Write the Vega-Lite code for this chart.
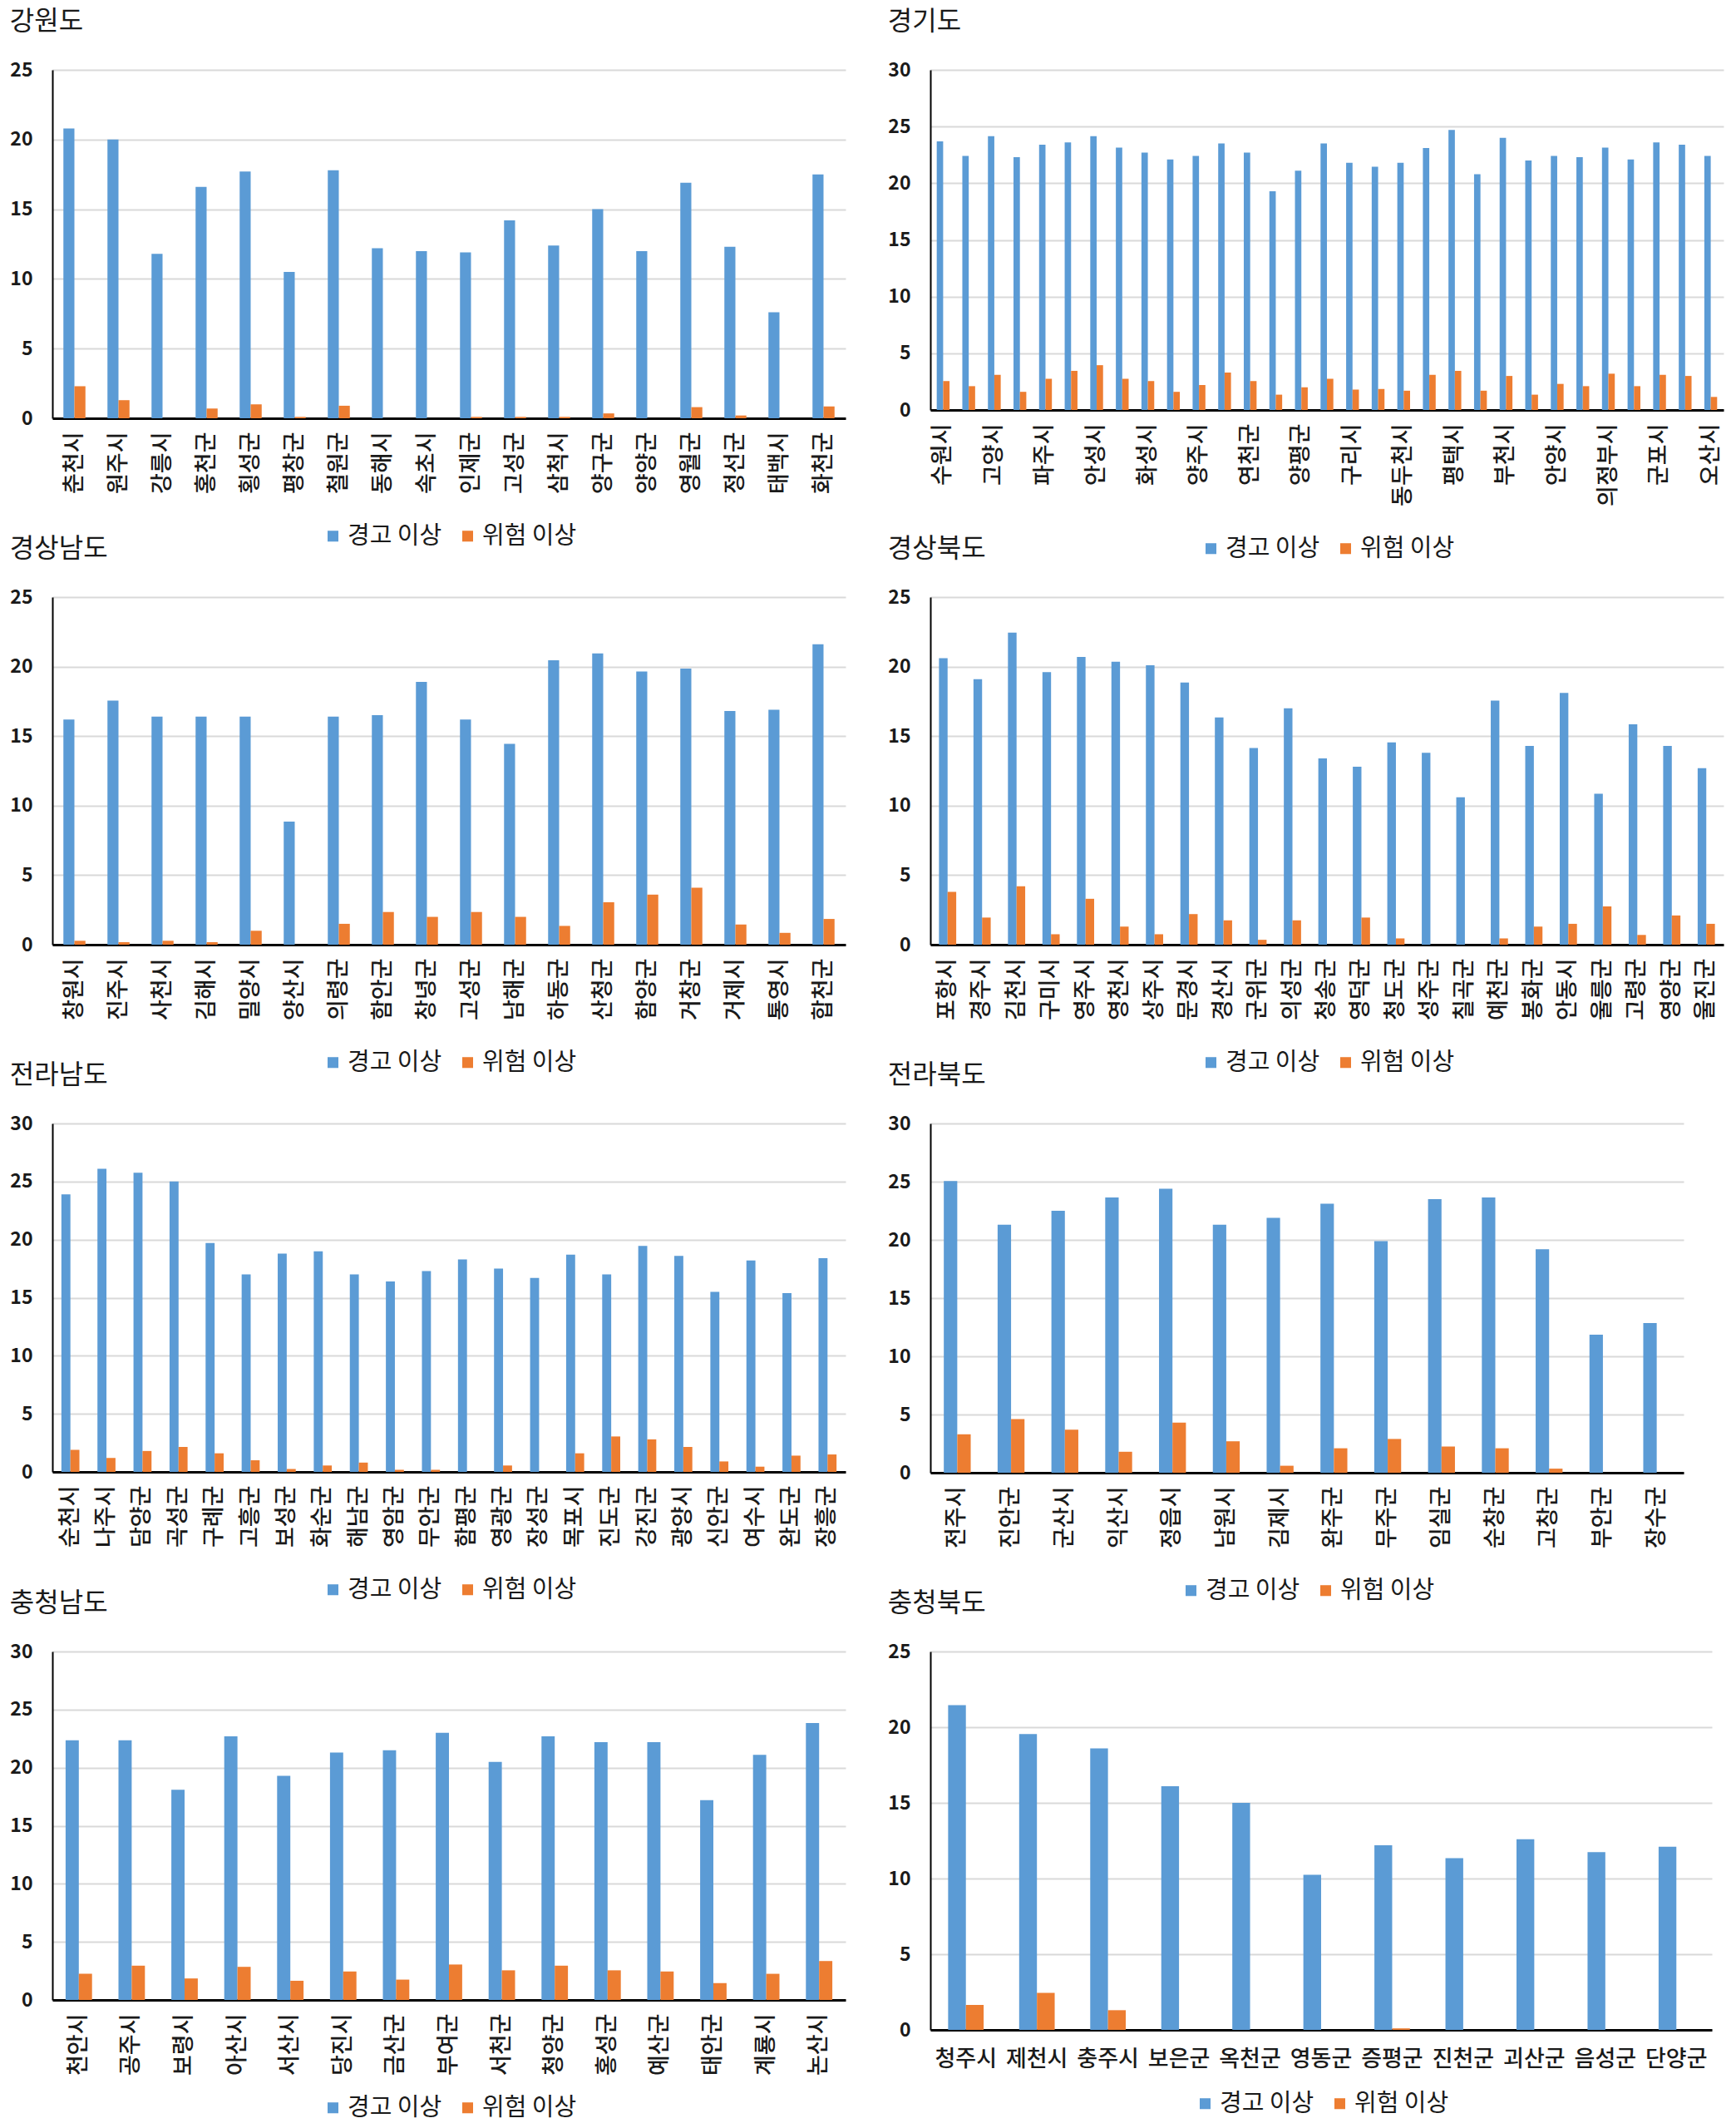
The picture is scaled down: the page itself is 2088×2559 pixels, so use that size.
{
  "$schema": "https://vega.github.io/schema/vega-lite/v6.json",
  "background": "white",
  "padding": {"left": 11, "top": 10, "right": 10, "bottom": 5},
  "data": {"values": [
    {"p":"강원도","r":"춘천시","s":"경고 이상","v":20.8},{"p":"강원도","r":"춘천시","s":"위험 이상","v":2.3},
    {"p":"강원도","r":"원주시","s":"경고 이상","v":20.0},{"p":"강원도","r":"원주시","s":"위험 이상","v":1.3},
    {"p":"강원도","r":"강릉시","s":"경고 이상","v":11.8},{"p":"강원도","r":"강릉시","s":"위험 이상","v":0},
    {"p":"강원도","r":"홍천군","s":"경고 이상","v":16.6},{"p":"강원도","r":"홍천군","s":"위험 이상","v":0.7},
    {"p":"강원도","r":"횡성군","s":"경고 이상","v":17.7},{"p":"강원도","r":"횡성군","s":"위험 이상","v":1.0},
    {"p":"강원도","r":"평창군","s":"경고 이상","v":10.5},{"p":"강원도","r":"평창군","s":"위험 이상","v":0.1},
    {"p":"강원도","r":"철원군","s":"경고 이상","v":17.8},{"p":"강원도","r":"철원군","s":"위험 이상","v":0.9},
    {"p":"강원도","r":"동해시","s":"경고 이상","v":12.2},{"p":"강원도","r":"동해시","s":"위험 이상","v":0},
    {"p":"강원도","r":"속초시","s":"경고 이상","v":12.0},{"p":"강원도","r":"속초시","s":"위험 이상","v":0},
    {"p":"강원도","r":"인제군","s":"경고 이상","v":11.9},{"p":"강원도","r":"인제군","s":"위험 이상","v":0.1},
    {"p":"강원도","r":"고성군","s":"경고 이상","v":14.2},{"p":"강원도","r":"고성군","s":"위험 이상","v":0.1},
    {"p":"강원도","r":"삼척시","s":"경고 이상","v":12.4},{"p":"강원도","r":"삼척시","s":"위험 이상","v":0.1},
    {"p":"강원도","r":"양구군","s":"경고 이상","v":15.0},{"p":"강원도","r":"양구군","s":"위험 이상","v":0.35},
    {"p":"강원도","r":"양양군","s":"경고 이상","v":12.0},{"p":"강원도","r":"양양군","s":"위험 이상","v":0},
    {"p":"강원도","r":"영월군","s":"경고 이상","v":16.9},{"p":"강원도","r":"영월군","s":"위험 이상","v":0.8},
    {"p":"강원도","r":"정선군","s":"경고 이상","v":12.3},{"p":"강원도","r":"정선군","s":"위험 이상","v":0.2},
    {"p":"강원도","r":"태백시","s":"경고 이상","v":7.6},{"p":"강원도","r":"태백시","s":"위험 이상","v":0},
    {"p":"강원도","r":"화천군","s":"경고 이상","v":17.5},{"p":"강원도","r":"화천군","s":"위험 이상","v":0.85},

    {"p":"경기도","r":"수원시","s":"경고 이상","v":23.7},{"p":"경기도","r":"수원시","s":"위험 이상","v":2.55},
    {"p":"경기도","r":"성남시","s":"경고 이상","v":22.4},{"p":"경기도","r":"성남시","s":"위험 이상","v":2.1},
    {"p":"경기도","r":"고양시","s":"경고 이상","v":24.15},{"p":"경기도","r":"고양시","s":"위험 이상","v":3.1},
    {"p":"경기도","r":"용인시","s":"경고 이상","v":22.3},{"p":"경기도","r":"용인시","s":"위험 이상","v":1.6},
    {"p":"경기도","r":"파주시","s":"경고 이상","v":23.4},{"p":"경기도","r":"파주시","s":"위험 이상","v":2.75},
    {"p":"경기도","r":"김포시","s":"경고 이상","v":23.6},{"p":"경기도","r":"김포시","s":"위험 이상","v":3.45},
    {"p":"경기도","r":"안성시","s":"경고 이상","v":24.15},{"p":"경기도","r":"안성시","s":"위험 이상","v":3.95},
    {"p":"경기도","r":"이천시","s":"경고 이상","v":23.15},{"p":"경기도","r":"이천시","s":"위험 이상","v":2.75},
    {"p":"경기도","r":"화성시","s":"경고 이상","v":22.7},{"p":"경기도","r":"화성시","s":"위험 이상","v":2.55},
    {"p":"경기도","r":"여주시","s":"경고 이상","v":22.1},{"p":"경기도","r":"여주시","s":"위험 이상","v":1.6},
    {"p":"경기도","r":"양주시","s":"경고 이상","v":22.4},{"p":"경기도","r":"양주시","s":"위험 이상","v":2.2},
    {"p":"경기도","r":"포천시","s":"경고 이상","v":23.5},{"p":"경기도","r":"포천시","s":"위험 이상","v":3.3},
    {"p":"경기도","r":"연천군","s":"경고 이상","v":22.7},{"p":"경기도","r":"연천군","s":"위험 이상","v":2.55},
    {"p":"경기도","r":"가평군","s":"경고 이상","v":19.3},{"p":"경기도","r":"가평군","s":"위험 이상","v":1.35},
    {"p":"경기도","r":"양평군","s":"경고 이상","v":21.1},{"p":"경기도","r":"양평군","s":"위험 이상","v":2.0},
    {"p":"경기도","r":"남양주시","s":"경고 이상","v":23.5},{"p":"경기도","r":"남양주시","s":"위험 이상","v":2.75},
    {"p":"경기도","r":"구리시","s":"경고 이상","v":21.8},{"p":"경기도","r":"구리시","s":"위험 이상","v":1.8},
    {"p":"경기도","r":"하남시","s":"경고 이상","v":21.45},{"p":"경기도","r":"하남시","s":"위험 이상","v":1.85},
    {"p":"경기도","r":"동두천시","s":"경고 이상","v":21.8},{"p":"경기도","r":"동두천시","s":"위험 이상","v":1.7},
    {"p":"경기도","r":"광주시","s":"경고 이상","v":23.1},{"p":"경기도","r":"광주시","s":"위험 이상","v":3.1},
    {"p":"경기도","r":"평택시","s":"경고 이상","v":24.7},{"p":"경기도","r":"평택시","s":"위험 이상","v":3.45},
    {"p":"경기도","r":"시흥시","s":"경고 이상","v":20.8},{"p":"경기도","r":"시흥시","s":"위험 이상","v":1.7},
    {"p":"경기도","r":"부천시","s":"경고 이상","v":24.0},{"p":"경기도","r":"부천시","s":"위험 이상","v":3.0},
    {"p":"경기도","r":"안산시","s":"경고 이상","v":22.0},{"p":"경기도","r":"안산시","s":"위험 이상","v":1.35},
    {"p":"경기도","r":"안양시","s":"경고 이상","v":22.4},{"p":"경기도","r":"안양시","s":"위험 이상","v":2.3},
    {"p":"경기도","r":"광명시","s":"경고 이상","v":22.3},{"p":"경기도","r":"광명시","s":"위험 이상","v":2.1},
    {"p":"경기도","r":"의정부시","s":"경고 이상","v":23.15},{"p":"경기도","r":"의정부시","s":"위험 이상","v":3.2},
    {"p":"경기도","r":"과천시","s":"경고 이상","v":22.1},{"p":"경기도","r":"과천시","s":"위험 이상","v":2.1},
    {"p":"경기도","r":"군포시","s":"경고 이상","v":23.6},{"p":"경기도","r":"군포시","s":"위험 이상","v":3.1},
    {"p":"경기도","r":"의왕시","s":"경고 이상","v":23.4},{"p":"경기도","r":"의왕시","s":"위험 이상","v":3.0},
    {"p":"경기도","r":"오산시","s":"경고 이상","v":22.4},{"p":"경기도","r":"오산시","s":"위험 이상","v":1.15},

    {"p":"경상남도","r":"창원시","s":"경고 이상","v":16.2},{"p":"경상남도","r":"창원시","s":"위험 이상","v":0.28},
    {"p":"경상남도","r":"진주시","s":"경고 이상","v":17.55},{"p":"경상남도","r":"진주시","s":"위험 이상","v":0.18},
    {"p":"경상남도","r":"사천시","s":"경고 이상","v":16.4},{"p":"경상남도","r":"사천시","s":"위험 이상","v":0.28},
    {"p":"경상남도","r":"김해시","s":"경고 이상","v":16.4},{"p":"경상남도","r":"김해시","s":"위험 이상","v":0.18},
    {"p":"경상남도","r":"밀양시","s":"경고 이상","v":16.4},{"p":"경상남도","r":"밀양시","s":"위험 이상","v":1.0},
    {"p":"경상남도","r":"양산시","s":"경고 이상","v":8.85},{"p":"경상남도","r":"양산시","s":"위험 이상","v":0},
    {"p":"경상남도","r":"의령군","s":"경고 이상","v":16.4},{"p":"경상남도","r":"의령군","s":"위험 이상","v":1.5},
    {"p":"경상남도","r":"함안군","s":"경고 이상","v":16.5},{"p":"경상남도","r":"함안군","s":"위험 이상","v":2.35},
    {"p":"경상남도","r":"창녕군","s":"경고 이상","v":18.9},{"p":"경상남도","r":"창녕군","s":"위험 이상","v":2.0},
    {"p":"경상남도","r":"고성군","s":"경고 이상","v":16.2},{"p":"경상남도","r":"고성군","s":"위험 이상","v":2.35},
    {"p":"경상남도","r":"남해군","s":"경고 이상","v":14.45},{"p":"경상남도","r":"남해군","s":"위험 이상","v":2.0},
    {"p":"경상남도","r":"하동군","s":"경고 이상","v":20.45},{"p":"경상남도","r":"하동군","s":"위험 이상","v":1.35},
    {"p":"경상남도","r":"산청군","s":"경고 이상","v":20.95},{"p":"경상남도","r":"산청군","s":"위험 이상","v":3.05},
    {"p":"경상남도","r":"함양군","s":"경고 이상","v":19.65},{"p":"경상남도","r":"함양군","s":"위험 이상","v":3.6},
    {"p":"경상남도","r":"거창군","s":"경고 이상","v":19.85},{"p":"경상남도","r":"거창군","s":"위험 이상","v":4.1},
    {"p":"경상남도","r":"거제시","s":"경고 이상","v":16.8},{"p":"경상남도","r":"거제시","s":"위험 이상","v":1.45},
    {"p":"경상남도","r":"통영시","s":"경고 이상","v":16.9},{"p":"경상남도","r":"통영시","s":"위험 이상","v":0.85},
    {"p":"경상남도","r":"합천군","s":"경고 이상","v":21.6},{"p":"경상남도","r":"합천군","s":"위험 이상","v":1.85},

    {"p":"경상북도","r":"포항시","s":"경고 이상","v":20.6},{"p":"경상북도","r":"포항시","s":"위험 이상","v":3.8},
    {"p":"경상북도","r":"경주시","s":"경고 이상","v":19.1},{"p":"경상북도","r":"경주시","s":"위험 이상","v":1.95},
    {"p":"경상북도","r":"김천시","s":"경고 이상","v":22.45},{"p":"경상북도","r":"김천시","s":"위험 이상","v":4.2},
    {"p":"경상북도","r":"구미시","s":"경고 이상","v":19.6},{"p":"경상북도","r":"구미시","s":"위험 이상","v":0.75},
    {"p":"경상북도","r":"영주시","s":"경고 이상","v":20.7},{"p":"경상북도","r":"영주시","s":"위험 이상","v":3.3},
    {"p":"경상북도","r":"영천시","s":"경고 이상","v":20.35},{"p":"경상북도","r":"영천시","s":"위험 이상","v":1.3},
    {"p":"경상북도","r":"상주시","s":"경고 이상","v":20.1},{"p":"경상북도","r":"상주시","s":"위험 이상","v":0.75},
    {"p":"경상북도","r":"문경시","s":"경고 이상","v":18.85},{"p":"경상북도","r":"문경시","s":"위험 이상","v":2.2},
    {"p":"경상북도","r":"경산시","s":"경고 이상","v":16.35},{"p":"경상북도","r":"경산시","s":"위험 이상","v":1.75},
    {"p":"경상북도","r":"군위군","s":"경고 이상","v":14.15},{"p":"경상북도","r":"군위군","s":"위험 이상","v":0.35},
    {"p":"경상북도","r":"의성군","s":"경고 이상","v":17.0},{"p":"경상북도","r":"의성군","s":"위험 이상","v":1.75},
    {"p":"경상북도","r":"청송군","s":"경고 이상","v":13.4},{"p":"경상북도","r":"청송군","s":"위험 이상","v":0},
    {"p":"경상북도","r":"영덕군","s":"경고 이상","v":12.8},{"p":"경상북도","r":"영덕군","s":"위험 이상","v":1.95},
    {"p":"경상북도","r":"청도군","s":"경고 이상","v":14.55},{"p":"경상북도","r":"청도군","s":"위험 이상","v":0.45},
    {"p":"경상북도","r":"성주군","s":"경고 이상","v":13.8},{"p":"경상북도","r":"성주군","s":"위험 이상","v":0},
    {"p":"경상북도","r":"칠곡군","s":"경고 이상","v":10.6},{"p":"경상북도","r":"칠곡군","s":"위험 이상","v":0},
    {"p":"경상북도","r":"예천군","s":"경고 이상","v":17.55},{"p":"경상북도","r":"예천군","s":"위험 이상","v":0.45},
    {"p":"경상북도","r":"봉화군","s":"경고 이상","v":14.3},{"p":"경상북도","r":"봉화군","s":"위험 이상","v":1.3},
    {"p":"경상북도","r":"안동시","s":"경고 이상","v":18.1},{"p":"경상북도","r":"안동시","s":"위험 이상","v":1.5},
    {"p":"경상북도","r":"울릉군","s":"경고 이상","v":10.85},{"p":"경상북도","r":"울릉군","s":"위험 이상","v":2.75},
    {"p":"경상북도","r":"고령군","s":"경고 이상","v":15.85},{"p":"경상북도","r":"고령군","s":"위험 이상","v":0.7},
    {"p":"경상북도","r":"영양군","s":"경고 이상","v":14.3},{"p":"경상북도","r":"영양군","s":"위험 이상","v":2.1},
    {"p":"경상북도","r":"울진군","s":"경고 이상","v":12.7},{"p":"경상북도","r":"울진군","s":"위험 이상","v":1.5},

    {"p":"전라남도","r":"순천시","s":"경고 이상","v":23.9},{"p":"전라남도","r":"순천시","s":"위험 이상","v":1.9},
    {"p":"전라남도","r":"나주시","s":"경고 이상","v":26.1},{"p":"전라남도","r":"나주시","s":"위험 이상","v":1.2},
    {"p":"전라남도","r":"담양군","s":"경고 이상","v":25.75},{"p":"전라남도","r":"담양군","s":"위험 이상","v":1.8},
    {"p":"전라남도","r":"곡성군","s":"경고 이상","v":25.0},{"p":"전라남도","r":"곡성군","s":"위험 이상","v":2.15},
    {"p":"전라남도","r":"구례군","s":"경고 이상","v":19.7},{"p":"전라남도","r":"구례군","s":"위험 이상","v":1.6},
    {"p":"전라남도","r":"고흥군","s":"경고 이상","v":17.0},{"p":"전라남도","r":"고흥군","s":"위험 이상","v":1.0},
    {"p":"전라남도","r":"보성군","s":"경고 이상","v":18.8},{"p":"전라남도","r":"보성군","s":"위험 이상","v":0.25},
    {"p":"전라남도","r":"화순군","s":"경고 이상","v":19.0},{"p":"전라남도","r":"화순군","s":"위험 이상","v":0.55},
    {"p":"전라남도","r":"해남군","s":"경고 이상","v":17.0},{"p":"전라남도","r":"해남군","s":"위험 이상","v":0.8},
    {"p":"전라남도","r":"영암군","s":"경고 이상","v":16.4},{"p":"전라남도","r":"영암군","s":"위험 이상","v":0.18},
    {"p":"전라남도","r":"무안군","s":"경고 이상","v":17.3},{"p":"전라남도","r":"무안군","s":"위험 이상","v":0.18},
    {"p":"전라남도","r":"함평군","s":"경고 이상","v":18.3},{"p":"전라남도","r":"함평군","s":"위험 이상","v":0},
    {"p":"전라남도","r":"영광군","s":"경고 이상","v":17.5},{"p":"전라남도","r":"영광군","s":"위험 이상","v":0.55},
    {"p":"전라남도","r":"장성군","s":"경고 이상","v":16.7},{"p":"전라남도","r":"장성군","s":"위험 이상","v":0},
    {"p":"전라남도","r":"목포시","s":"경고 이상","v":18.7},{"p":"전라남도","r":"목포시","s":"위험 이상","v":1.6},
    {"p":"전라남도","r":"진도군","s":"경고 이상","v":17.0},{"p":"전라남도","r":"진도군","s":"위험 이상","v":3.05},
    {"p":"전라남도","r":"강진군","s":"경고 이상","v":19.45},{"p":"전라남도","r":"강진군","s":"위험 이상","v":2.8},
    {"p":"전라남도","r":"광양시","s":"경고 이상","v":18.6},{"p":"전라남도","r":"광양시","s":"위험 이상","v":2.15},
    {"p":"전라남도","r":"신안군","s":"경고 이상","v":15.5},{"p":"전라남도","r":"신안군","s":"위험 이상","v":0.9},
    {"p":"전라남도","r":"여수시","s":"경고 이상","v":18.2},{"p":"전라남도","r":"여수시","s":"위험 이상","v":0.45},
    {"p":"전라남도","r":"완도군","s":"경고 이상","v":15.4},{"p":"전라남도","r":"완도군","s":"위험 이상","v":1.4},
    {"p":"전라남도","r":"장흥군","s":"경고 이상","v":18.4},{"p":"전라남도","r":"장흥군","s":"위험 이상","v":1.5},

    {"p":"전라북도","r":"전주시","s":"경고 이상","v":25.05},{"p":"전라북도","r":"전주시","s":"위험 이상","v":3.3},
    {"p":"전라북도","r":"진안군","s":"경고 이상","v":21.3},{"p":"전라북도","r":"진안군","s":"위험 이상","v":4.6},
    {"p":"전라북도","r":"군산시","s":"경고 이상","v":22.5},{"p":"전라북도","r":"군산시","s":"위험 이상","v":3.7},
    {"p":"전라북도","r":"익산시","s":"경고 이상","v":23.65},{"p":"전라북도","r":"익산시","s":"위험 이상","v":1.8},
    {"p":"전라북도","r":"정읍시","s":"경고 이상","v":24.4},{"p":"전라북도","r":"정읍시","s":"위험 이상","v":4.3},
    {"p":"전라북도","r":"남원시","s":"경고 이상","v":21.3},{"p":"전라북도","r":"남원시","s":"위험 이상","v":2.7},
    {"p":"전라북도","r":"김제시","s":"경고 이상","v":21.9},{"p":"전라북도","r":"김제시","s":"위험 이상","v":0.6},
    {"p":"전라북도","r":"완주군","s":"경고 이상","v":23.1},{"p":"전라북도","r":"완주군","s":"위험 이상","v":2.1},
    {"p":"전라북도","r":"무주군","s":"경고 이상","v":19.9},{"p":"전라북도","r":"무주군","s":"위험 이상","v":2.9},
    {"p":"전라북도","r":"임실군","s":"경고 이상","v":23.5},{"p":"전라북도","r":"임실군","s":"위험 이상","v":2.25},
    {"p":"전라북도","r":"순창군","s":"경고 이상","v":23.65},{"p":"전라북도","r":"순창군","s":"위험 이상","v":2.1},
    {"p":"전라북도","r":"고창군","s":"경고 이상","v":19.2},{"p":"전라북도","r":"고창군","s":"위험 이상","v":0.35},
    {"p":"전라북도","r":"부안군","s":"경고 이상","v":11.85},{"p":"전라북도","r":"부안군","s":"위험 이상","v":0},
    {"p":"전라북도","r":"장수군","s":"경고 이상","v":12.85},{"p":"전라북도","r":"장수군","s":"위험 이상","v":0},

    {"p":"충청남도","r":"천안시","s":"경고 이상","v":22.35},{"p":"충청남도","r":"천안시","s":"위험 이상","v":2.25},
    {"p":"충청남도","r":"공주시","s":"경고 이상","v":22.35},{"p":"충청남도","r":"공주시","s":"위험 이상","v":2.95},
    {"p":"충청남도","r":"보령시","s":"경고 이상","v":18.1},{"p":"충청남도","r":"보령시","s":"위험 이상","v":1.85},
    {"p":"충청남도","r":"아산시","s":"경고 이상","v":22.7},{"p":"충청남도","r":"아산시","s":"위험 이상","v":2.85},
    {"p":"충청남도","r":"서산시","s":"경고 이상","v":19.3},{"p":"충청남도","r":"서산시","s":"위험 이상","v":1.65},
    {"p":"충청남도","r":"당진시","s":"경고 이상","v":21.3},{"p":"충청남도","r":"당진시","s":"위험 이상","v":2.45},
    {"p":"충청남도","r":"금산군","s":"경고 이상","v":21.5},{"p":"충청남도","r":"금산군","s":"위험 이상","v":1.75},
    {"p":"충청남도","r":"부여군","s":"경고 이상","v":23.0},{"p":"충청남도","r":"부여군","s":"위험 이상","v":3.05},
    {"p":"충청남도","r":"서천군","s":"경고 이상","v":20.5},{"p":"충청남도","r":"서천군","s":"위험 이상","v":2.55},
    {"p":"충청남도","r":"청양군","s":"경고 이상","v":22.7},{"p":"충청남도","r":"청양군","s":"위험 이상","v":2.95},
    {"p":"충청남도","r":"홍성군","s":"경고 이상","v":22.2},{"p":"충청남도","r":"홍성군","s":"위험 이상","v":2.55},
    {"p":"충청남도","r":"예산군","s":"경고 이상","v":22.2},{"p":"충청남도","r":"예산군","s":"위험 이상","v":2.45},
    {"p":"충청남도","r":"태안군","s":"경고 이상","v":17.2},{"p":"충청남도","r":"태안군","s":"위험 이상","v":1.45},
    {"p":"충청남도","r":"계룡시","s":"경고 이상","v":21.1},{"p":"충청남도","r":"계룡시","s":"위험 이상","v":2.25},
    {"p":"충청남도","r":"논산시","s":"경고 이상","v":23.85},{"p":"충청남도","r":"논산시","s":"위험 이상","v":3.35},

    {"p":"충청북도","r":"청주시","s":"경고 이상","v":21.45},{"p":"충청북도","r":"청주시","s":"위험 이상","v":1.65},
    {"p":"충청북도","r":"제천시","s":"경고 이상","v":19.55},{"p":"충청북도","r":"제천시","s":"위험 이상","v":2.45},
    {"p":"충청북도","r":"충주시","s":"경고 이상","v":18.6},{"p":"충청북도","r":"충주시","s":"위험 이상","v":1.3},
    {"p":"충청북도","r":"보은군","s":"경고 이상","v":16.1},{"p":"충청북도","r":"보은군","s":"위험 이상","v":0},
    {"p":"충청북도","r":"옥천군","s":"경고 이상","v":15.0},{"p":"충청북도","r":"옥천군","s":"위험 이상","v":0},
    {"p":"충청북도","r":"영동군","s":"경고 이상","v":10.25},{"p":"충청북도","r":"영동군","s":"위험 이상","v":0},
    {"p":"충청북도","r":"증평군","s":"경고 이상","v":12.2},{"p":"충청북도","r":"증평군","s":"위험 이상","v":0.1},
    {"p":"충청북도","r":"진천군","s":"경고 이상","v":11.35},{"p":"충청북도","r":"진천군","s":"위험 이상","v":0},
    {"p":"충청북도","r":"괴산군","s":"경고 이상","v":12.6},{"p":"충청북도","r":"괴산군","s":"위험 이상","v":0},
    {"p":"충청북도","r":"음성군","s":"경고 이상","v":11.75},{"p":"충청북도","r":"음성군","s":"위험 이상","v":0},
    {"p":"충청북도","r":"단양군","s":"경고 이상","v":12.1},{"p":"충청북도","r":"단양군","s":"위험 이상","v":0}
  ]},
  "columns": 2,
  "bounds": "flush",
  "align": "each",
  "spacing": {"row": 215, "column": 102},
  "resolve": {
    "scale": {"x": "independent", "y": "independent", "color": "independent", "xOffset": "independent"},
    "axis": {"x": "independent", "y": "independent"},
    "legend": {"color": "independent"}
  },
  "concat": [
    {
      "title": {"text": "강원도"},
      "width": 954, "height": 419,
      "transform": [{"filter": "datum.p == '강원도'"}],
      "mark": {"type": "bar"},
      "encoding": {
        "x": {"field": "r", "type": "nominal", "sort": null, "scale": {"paddingInner": 0.5, "paddingOuter": 0.25}},
        "xOffset": {"field": "s", "type": "nominal", "sort": ["경고 이상", "위험 이상"]},
        "y": {"field": "v", "type": "quantitative", "scale": {"domain": [0, 25], "nice": false}, "axis": {"values": [0, 5, 10, 15, 20, 25]}},
        "color": {"field": "s", "type": "nominal", "scale": {"domain": ["경고 이상", "위험 이상"], "range": ["#5B9BD5", "#ED7D31"]}, "legend": {"title": null}}
      }
    },
    {
      "title": {"text": "경기도"},
      "width": 954, "height": 409,
      "transform": [{"filter": "datum.p == '경기도'"}],
      "mark": {"type": "bar"},
      "encoding": {
        "x": {"field": "r", "type": "nominal", "sort": null, "scale": {"paddingInner": 0.5, "paddingOuter": 0.25},
              "axis": {"values": ["수원시", "고양시", "파주시", "안성시", "화성시", "양주시", "연천군", "양평군", "구리시", "동두천시", "평택시", "부천시", "안양시", "의정부시", "군포시", "오산시"]}},
        "xOffset": {"field": "s", "type": "nominal", "sort": ["경고 이상", "위험 이상"]},
        "y": {"field": "v", "type": "quantitative", "scale": {"domain": [0, 30], "nice": false}, "axis": {"values": [0, 5, 10, 15, 20, 25, 30]}},
        "color": {"field": "s", "type": "nominal", "scale": {"domain": ["경고 이상", "위험 이상"], "range": ["#5B9BD5", "#ED7D31"]}, "legend": {"title": null}}
      }
    },
    {
      "title": {"text": "경상남도"},
      "width": 954, "height": 418,
      "transform": [{"filter": "datum.p == '경상남도'"}],
      "mark": {"type": "bar"},
      "encoding": {
        "x": {"field": "r", "type": "nominal", "sort": null, "scale": {"paddingInner": 0.5, "paddingOuter": 0.25}},
        "xOffset": {"field": "s", "type": "nominal", "sort": ["경고 이상", "위험 이상"]},
        "y": {"field": "v", "type": "quantitative", "scale": {"domain": [0, 25], "nice": false}, "axis": {"values": [0, 5, 10, 15, 20, 25]}},
        "color": {"field": "s", "type": "nominal", "scale": {"domain": ["경고 이상", "위험 이상"], "range": ["#5B9BD5", "#ED7D31"]}, "legend": {"title": null}}
      }
    },
    {
      "title": {"text": "경상북도"},
      "width": 954, "height": 418,
      "transform": [{"filter": "datum.p == '경상북도'"}],
      "mark": {"type": "bar"},
      "encoding": {
        "x": {"field": "r", "type": "nominal", "sort": null, "scale": {"paddingInner": 0.5, "paddingOuter": 0.25}},
        "xOffset": {"field": "s", "type": "nominal", "sort": ["경고 이상", "위험 이상"]},
        "y": {"field": "v", "type": "quantitative", "scale": {"domain": [0, 25], "nice": false}, "axis": {"values": [0, 5, 10, 15, 20, 25]}},
        "color": {"field": "s", "type": "nominal", "scale": {"domain": ["경고 이상", "위험 이상"], "range": ["#5B9BD5", "#ED7D31"]}, "legend": {"title": null}}
      }
    },
    {
      "title": {"text": "전라남도"},
      "width": 954, "height": 419,
      "transform": [{"filter": "datum.p == '전라남도'"}],
      "mark": {"type": "bar"},
      "encoding": {
        "x": {"field": "r", "type": "nominal", "sort": null, "scale": {"paddingInner": 0.5, "paddingOuter": 0.25}},
        "xOffset": {"field": "s", "type": "nominal", "sort": ["경고 이상", "위험 이상"]},
        "y": {"field": "v", "type": "quantitative", "scale": {"domain": [0, 30], "nice": false}, "axis": {"values": [0, 5, 10, 15, 20, 25, 30]}},
        "color": {"field": "s", "type": "nominal", "scale": {"domain": ["경고 이상", "위험 이상"], "range": ["#5B9BD5", "#ED7D31"]}, "legend": {"title": null}}
      }
    },
    {
      "title": {"text": "전라북도"},
      "width": 906, "height": 420,
      "transform": [{"filter": "datum.p == '전라북도'"}],
      "mark": {"type": "bar"},
      "encoding": {
        "x": {"field": "r", "type": "nominal", "sort": null, "scale": {"paddingInner": 0.5, "paddingOuter": 0.25}},
        "xOffset": {"field": "s", "type": "nominal", "sort": ["경고 이상", "위험 이상"]},
        "y": {"field": "v", "type": "quantitative", "scale": {"domain": [0, 30], "nice": false}, "axis": {"values": [0, 5, 10, 15, 20, 25, 30]}},
        "color": {"field": "s", "type": "nominal", "scale": {"domain": ["경고 이상", "위험 이상"], "range": ["#5B9BD5", "#ED7D31"]}, "legend": {"title": null}}
      }
    },
    {
      "title": {"text": "충청남도"},
      "width": 954, "height": 419,
      "transform": [{"filter": "datum.p == '충청남도'"}],
      "mark": {"type": "bar"},
      "encoding": {
        "x": {"field": "r", "type": "nominal", "sort": null, "scale": {"paddingInner": 0.5, "paddingOuter": 0.25}},
        "xOffset": {"field": "s", "type": "nominal", "sort": ["경고 이상", "위험 이상"]},
        "y": {"field": "v", "type": "quantitative", "scale": {"domain": [0, 30], "nice": false}, "axis": {"values": [0, 5, 10, 15, 20, 25, 30]}},
        "color": {"field": "s", "type": "nominal", "scale": {"domain": ["경고 이상", "위험 이상"], "range": ["#5B9BD5", "#ED7D31"]}, "legend": {"title": null, "offset": 24}}
      }
    },
    {
      "title": {"text": "충청북도"},
      "width": 940, "height": 455,
      "transform": [{"filter": "datum.p == '충청북도'"}],
      "mark": {"type": "bar"},
      "encoding": {
        "x": {"field": "r", "type": "nominal", "sort": null, "scale": {"paddingInner": 0.5, "paddingOuter": 0.25}, "axis": {"labelAngle": 0, "labelPadding": 22}},
        "xOffset": {"field": "s", "type": "nominal", "sort": ["경고 이상", "위험 이상"]},
        "y": {"field": "v", "type": "quantitative", "scale": {"domain": [0, 25], "nice": false}, "axis": {"values": [0, 5, 10, 15, 20, 25]}},
        "color": {"field": "s", "type": "nominal", "scale": {"domain": ["경고 이상", "위험 이상"], "range": ["#5B9BD5", "#ED7D31"]}, "legend": {"title": null, "offset": 26}}
      }
    }
  ],
  "config": {
    "font": "Noto Sans CJK KR",
    "view": {"stroke": null},
    "bar": {"stroke": null},
    "axis": {"title": null, "ticks": false, "labelColor": "#1a1a1a", "domainColor": "#000000"},
    "axisX": {"domainWidth": 3, "labelFontSize": 27, "labelPadding": 16, "grid": false, "labelAngle": -90, "labelFontWeight": 500},
    "axisY": {"domainWidth": 2, "grid": true, "gridColor": "#d9d9d9", "gridWidth": 2, "labelFontSize": 23, "labelFontWeight": "bold", "labelPadding": 24},
    "legend": {"orient": "bottom", "direction": "horizontal", "symbolType": "square", "symbolSize": 170, "symbolStrokeWidth": 0, "labelFontSize": 29, "labelColor": "#1a1a1a", "labelOffset": 3, "columnPadding": 16, "offset": 36, "layout": {"anchor": "middle"}},
    "title": {"anchor": "start", "fontSize": 32, "fontWeight": "normal", "offset": 30, "color": "#1a1a1a"}
  }
}
